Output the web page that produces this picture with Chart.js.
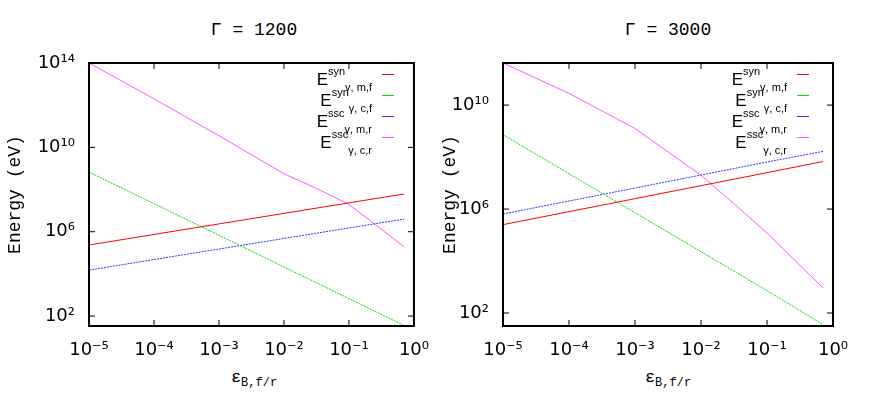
<!DOCTYPE html>
<html><head><meta charset="utf-8">
<script src="https://cdn.jsdelivr.net/npm/chart.js@4"></script>
<style>
body{margin:0;background:#fff;width:870px;height:414px;position:relative;overflow:hidden}
canvas{position:absolute;top:0}
.ttl{position:absolute;top:20px;font:18px "Liberation Mono",monospace;width:330px;text-align:center}
.xt{position:absolute;top:368px;font:17px "Liberation Mono",monospace;width:330px;text-align:center}
.xt sub{font-size:12px}
.leg{position:absolute;font:14px "Liberation Sans",sans-serif;line-height:21px}
.row{position:relative;height:21px}
.lab{position:absolute;right:22px;top:0;white-space:nowrap;font-size:17px}
.lab sup{font-size:11px;position:relative;top:-3px}
.lab sub{font-size:11px;position:relative;top:2px}
.smp{position:absolute;right:0;top:10px;width:12px;height:1px}
</style></head><body>
<div class="ttl" style="left:89px">Γ = 1200</div>
<div class="ttl" style="left:503px">Γ = 3000</div>
<div class="xt" style="left:89px">ε<sub>B,f/r</sub></div>
<div class="xt" style="left:503px">ε<sub>B,f/r</sub></div>
<canvas id="c1" width="435" height="414" style="left:0"></canvas>
<canvas id="c2" width="435" height="414" style="left:435px"></canvas>
<div class="leg" id="leg1" style="left:250px;top:64px;width:144px"></div>
<div class="leg" id="leg2" style="left:665px;top:64px;width:144px"></div>
<script>
// log10 of epsilon_B
const logEps = [-5, -4, -3, -2, -1.5, -1, -0.15];
// log10 of energy (eV), Gamma = 1200
const synM1200 = [5.37, 5.87, 6.37, 6.87, 7.12, 7.37, 7.79];
const synC1200 = [8.83, 7.33, 5.83, 4.33, 3.58, 2.83, 1.55];
const sscM1200 = [4.18, 4.68, 5.18, 5.68, 5.93, 6.18, 6.6];
const sscC1200 = [14.0, 12.3, 10.55, 8.75, 8.05, 7.3, 5.28];
// Gamma = 3000
const synM3000 = [5.40, 5.90, 6.40, 6.90, 7.15, 7.40, 7.83];
const synC3000 = [8.86, 7.36, 5.86, 4.36, 3.61, 2.86, 1.55];
const sscM3000 = [5.81, 6.31, 6.81, 7.31, 7.56, 7.81, 8.22];
const sscC3000 = [11.62, 10.45, 9.1, 7.3, 6.2, 5.08, 2.96];
const xTicks = [-5, -4, -3, -2, -1, 0];
const sup = {'-':'⁻','0':'⁰','1':'¹','2':'²','3':'³','4':'⁴','5':'⁵','6':'⁶','7':'⁷','8':'⁸','9':'⁹'};
const pow = e => '10' + String(e).split('').map(c => sup[c]).join('');

const names = [['syn','γ, m,f'],['syn','γ, c,f'],['ssc','γ, m,r'],['ssc','γ, c,r']];
const colors = ['#ff0000', '#00dd00', '#3333ff', '#ff55ff'];
const dashes = [[], [2,1], [2,1], []];

const frame = {
  id: 'frame',
  afterDraw(ch) {
    const a = ch.chartArea, c = ch.ctx;
    c.save();
    c.strokeStyle = '#000'; c.lineWidth = 2;
    c.strokeRect(a.left, a.top, a.right - a.left, a.bottom - a.top);
    c.lineWidth = 1;
    const xs = ch.scales.x, ys = ch.scales.y;
    for (let e = -5; e <= 0; e++) {
      const px = xs.getPixelForValue(Math.pow(10, e));
      c.beginPath(); c.moveTo(px, a.bottom); c.lineTo(px, a.bottom - 6);
      c.moveTo(px, a.top); c.lineTo(px, a.top + 6); c.stroke();
    }
    ys.ticks.forEach(t => {
      const py = ys.getPixelForValue(t.value);
      c.beginPath(); c.moveTo(a.left, py); c.lineTo(a.left + 6, py);
      c.moveTo(a.right, py); c.lineTo(a.right - 6, py); c.stroke();
    });
    c.restore();
  }
};

function makeChart(id, series, yMinExp, yMaxExp, yTicks, yW, padR) {
  new Chart(document.getElementById(id), {
    type: 'line',
    data: {
      datasets: series.map((s, i) => ({
        data: logEps.map((lx, j) => ({x: Math.pow(10, lx), y: Math.pow(10, s[j])})),
        borderColor: colors[i], borderWidth: 1, borderDash: dashes[i],
        pointRadius: 0, fill: false, tension: 0
      }))
    },
    options: {
      responsive: false, animation: false,
      layout: {padding: {top: 63, right: padR, left: 0, bottom: 0}},
      plugins: {legend: {display: false}, tooltip: {enabled: false}},
      scales: {
        x: {
          type: 'logarithmic', min: 1e-5, max: 1,
          afterBuildTicks: s => { s.ticks = xTicks.map(e => ({value: Math.pow(10, e)})); },
          afterFit: s => { s.height = 88; },
          grid: {display: false}, border: {display: false},
          ticks: {color: '#000', font: {family: 'DejaVu Sans', size: 18}, padding: 6,
            maxRotation: 0, callback: v => pow(Math.round(Math.log10(v)))}
        },
        y: {
          type: 'logarithmic', min: Math.pow(10, yMinExp), max: Math.pow(10, yMaxExp),
          afterBuildTicks: s => { s.ticks = yTicks.map(e => ({value: Math.pow(10, e)})); },
          afterFit: s => { s.width = yW; },
          grid: {display: false}, border: {display: false},
          title: {display: true, text: 'Energy (eV)', color: '#000',
            font: {family: 'Liberation Mono', size: 18}},
          ticks: {color: '#000', font: {family: 'DejaVu Sans', size: 18}, padding: 6,
            callback: v => pow(Math.round(Math.log10(v)))}
        }
      }
    },
    plugins: [frame]
  });
}

makeChart('c1', [synM1200, synC1200, sscM1200, sscC1200], 1.53, 14, [2, 6, 10, 14], 89, 17);
makeChart('c2', [synM3000, synC3000, sscM3000, sscC3000], 1.5, 11.62, [2, 6, 10], 68, 37);

['leg1', 'leg2'].forEach(id => {
  const el = document.getElementById(id);
  names.forEach((n, i) => {
    const r = document.createElement('div'); r.className = 'row';
    r.innerHTML = '<span class="lab">E<sup>' + n[0] + '</sup><sub>' + n[1] + '</sub></span>' +
      '<span class="smp" style="background:' + colors[i] + '"></span>';
    el.appendChild(r);
  });
});
</script>
</body></html>
